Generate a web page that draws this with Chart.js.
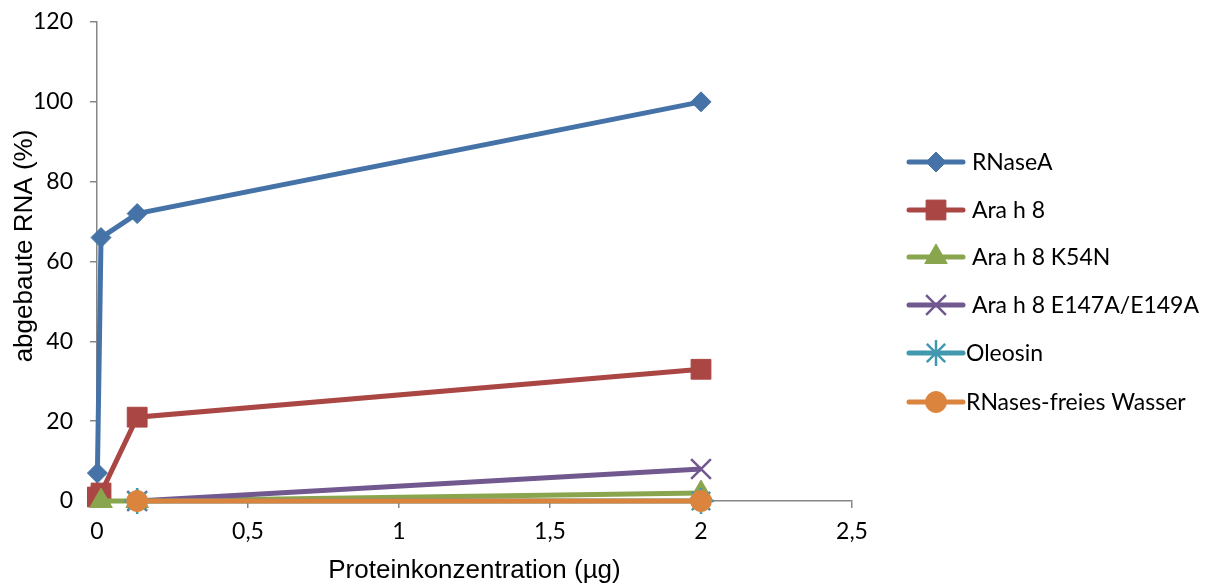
<!DOCTYPE html>
<html>
<head>
<meta charset="utf-8">
<script src="https://cdn.jsdelivr.net/npm/chart.js@4/dist/chart.umd.min.js"></script>
<style>
  html, body { margin: 0; padding: 0; background: #fff; }
  #wrap { width: 1213px; height: 584px; }
</style>
</head>
<body>
<div id="wrap"><canvas id="c" width="1213" height="584"></canvas></div>
<script>
// Protein amounts (µg) and degraded RNA (%) per sample
const rnaseA      = [[0.00133, 7], [0.0133, 66], [0.133, 72], [2, 100]];
const arah8       = [[0.00133, 1], [0.0133, 2], [0.133, 21], [2, 33]];
const arah8K54N   = [[0.0133, 0], [0.133, 0], [2, 2]];
const arah8E147A  = [[0.133, 0], [2, 8]];
const oleosin     = [[0.133, 0], [2, 0]];
const water       = [[0.133, 0], [2, 0]];

const seriesNames = [" RNaseA", " Ara h 8", " Ara h 8 K54N", " Ara h 8 E147A/E149A", "Oleosin", "RNases-freies Wasser"];
const xTicks = [0, 0.5, 1, 1.5, 2, 2.5];
const yTicks = [0, 20, 40, 60, 80, 100, 120];
const xTitle = "Proteinkonzentration (µg)";
const yTitle = "abgebaute RNA (%)";

const colors = ["#4573A8", "#AA4643", "#89A54E", "#71588F", "#4198AF", "#DB843D"];
const styles = ["rectRot", "rect", "triangle", "crossRot", "star", "circle"];
const radii  = [10, 14, 13, 14, 13, 10.5];

const toXY = arr => arr.map(p => ({ x: p[0], y: p[1] }));
const allData = [rnaseA, arah8, arah8K54N, arah8E147A, oleosin, water];

const datasets = allData.map((d, i) => ({
  label: seriesNames[i],
  data: toXY(d),
  borderColor: colors[i],
  backgroundColor: colors[i],
  pointBackgroundColor: colors[i],
  pointBorderColor: colors[i],
  pointStyle: styles[i],
  pointRadius: radii[i],
  pointBorderWidth: (styles[i] === "crossRot" || styles[i] === "star") ? 2.5 : 1,
  borderWidth: 5,
  showLine: true,
  fill: false,
  tension: 0,
  order: allData.length - i,
  clip: false
}));

const fmt = v => String(v).replace(".", ",");
const tickFont = { family: "Lato", size: 23 };

// Legend at the right (line + marker + label) and the rotated y-axis title
const sideLegend = {
  id: "sideLegend",
  afterDraw(chart) {
    const ctx = chart.ctx;
    const x0 = 909, x1 = 963;
    const ys = [162, 210, 257, 305, 353, 402];
    ctx.save();
    chart.data.datasets.forEach((ds, i) => {
      const y = ys[i];
      ctx.strokeStyle = ds.borderColor;
      ctx.lineWidth = 5;
      ctx.lineCap = "round";
      ctx.beginPath();
      ctx.moveTo(x0, y);
      ctx.lineTo(x1, y);
      ctx.stroke();
      ctx.lineCap = "butt";
      ctx.fillStyle = ds.pointBackgroundColor;
      ctx.strokeStyle = ds.pointBorderColor;
      ctx.lineWidth = ds.pointBorderWidth;
      Chart.helpers.drawPoint(ctx, { pointStyle: ds.pointStyle, radius: ds.pointRadius, borderWidth: ds.pointBorderWidth, rotation: 0 }, (x0 + x1) / 2, y);
      ctx.fillStyle = "#000";
      ctx.font = "23px Lato";
      ctx.textAlign = "left";
      ctx.textBaseline = "middle";
      ctx.fillText(ds.label, 966, y + 1);
    });
    ctx.translate(25, 246);
    ctx.rotate(-Math.PI / 2);
    ctx.font = "26px 'Liberation Sans'";
    ctx.textAlign = "center";
    ctx.textBaseline = "middle";
    ctx.fillStyle = "#000";
    ctx.fillText(yTitle, 0, 0);
    ctx.restore();
  }
};

new Chart(document.getElementById("c"), {
  type: "scatter",
  data: { datasets },
  plugins: [sideLegend],
  options: {
    responsive: false,
    animation: false,
    events: [],
    layout: { padding: { left: 0, right: 361, top: 22, bottom: 0 } },
    plugins: { legend: { display: false }, tooltip: { enabled: false } },
    scales: {
      x: {
        type: "linear",
        min: 0, max: 2.5,
        afterBuildTicks: axis => { axis.ticks = xTicks.map(v => ({ value: v })); },
        afterFit: axis => { axis.height = 83; axis.paddingLeft = 0; axis.paddingRight = 0; },
        ticks: { color: "#000", font: tickFont, padding: 10, maxRotation: 0, callback: v => fmt(v) },
        grid: { drawOnChartArea: false, drawTicks: true, tickLength: 7, color: "#868686", lineWidth: 1.5 },
        border: { color: "#868686", width: 1.5 },
        title: { display: true, text: xTitle, color: "#000", font: { family: "Liberation Sans", size: 26, lineHeight: 1 }, padding: { top: 0, bottom: 0 } }
      },
      y: {
        type: "linear",
        min: 0, max: 120,
        afterBuildTicks: axis => { axis.ticks = yTicks.map(v => ({ value: v })); },
        afterFit: axis => { axis.width = 97; axis.paddingTop = 0; axis.paddingBottom = 0; },
        ticks: { color: "#000", font: tickFont, padding: 17, callback: v => fmt(v) },
        grid: { drawOnChartArea: false, drawTicks: true, tickLength: 7, color: "#868686", lineWidth: 1.5 },
        border: { color: "#868686", width: 1.5 }
      }
    }
  }
});
</script>
</body>
</html>
